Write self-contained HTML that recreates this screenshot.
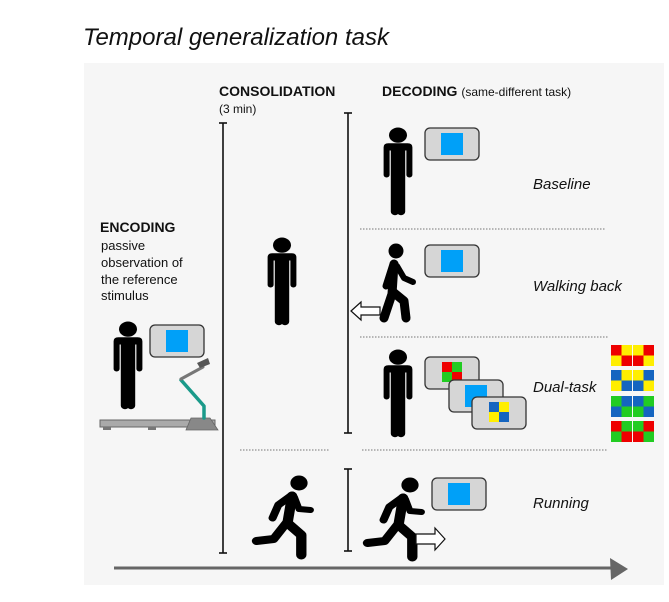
<!DOCTYPE html>
<html><head><style>
body{margin:0;background:#fff;width:669px;height:602px;overflow:hidden}
svg{display:block}
text{font-family:"Liberation Sans",Arial,sans-serif;fill:#111}
</style></head><body>
<svg width="669" height="602" viewBox="0 0 669 602" xmlns="http://www.w3.org/2000/svg">
<defs>
<g id="stand">
<circle cx="15" cy="7" r="7.5"/>
<path d="M3 19 Q3 15 7 15 H23 Q27 15 27 19 V46 a2.5 2.5 0 0 1 -5 0 V22 H21 V82 a3.5 3.5 0 0 1 -7 0 V50 H16 V82 a3.5 3.5 0 0 1 -7 0 V22 H8 V46 a2.5 2.5 0 0 1 -5 0 Z"/>
</g>
<g id="screen">
<rect x="0" y="0" width="54" height="32" rx="5" fill="#d6d6d6" stroke="#333" stroke-width="1.3"/>
<rect x="16" y="5" width="22" height="22" fill="#00a0f8"/>
</g>
<g id="run" stroke="#000" stroke-linecap="round" stroke-linejoin="round" fill="none">
<circle cx="40" cy="8" r="7.5" fill="#000" stroke="none"/>
<path d="M34 20 L22 30 L17 43" stroke-width="7"/>
<path d="M36 22 L40 34 L50 35" stroke-width="6"/>
<path d="M34 21 L30 48 L42 60 L42 80" stroke-width="9"/>
<path d="M29 48 L18 64 L3 66" stroke-width="8"/>
</g>
<g id="walk" stroke="#000" stroke-linecap="round" stroke-linejoin="round" fill="none">
<circle cx="18" cy="7" r="7.5" fill="#000" stroke="none"/>
<path d="M15 20 L8 42" stroke-width="7"/>
<path d="M19 22 L26 34 L35 38" stroke-width="6"/>
<path d="M16 20 L14 50 L6 74" stroke-width="9"/>
<path d="M15 48 L26 57 L28 74" stroke-width="9"/>
</g>
</defs>
<text x="83" y="45" font-size="24" font-style="italic">Temporal generalization task</text>
<rect x="84" y="63" width="580" height="522" fill="#f6f6f6"/>

<text x="219" y="96" font-size="14" font-weight="bold">CONSOLIDATION</text>
<text x="219" y="113" font-size="12">(3 min)</text>
<text x="382" y="96" font-size="14" font-weight="bold">DECODING <tspan font-weight="normal" font-size="12">(same-different task)</tspan></text>

<text x="100" y="232" font-size="14" font-weight="bold">ENCODING</text>
<text x="101" y="250" font-size="13">passive</text>
<text x="101" y="267" font-size="13">observation of</text>
<text x="101" y="284" font-size="13">the reference</text>
<text x="101" y="300" font-size="13">stimulus</text>

<g stroke="#111" stroke-width="1.6">
<line x1="223" y1="123" x2="223" y2="553"/><line x1="219" y1="123" x2="227" y2="123"/><line x1="219" y1="553" x2="227" y2="553"/>
<line x1="348" y1="113" x2="348" y2="433"/><line x1="344" y1="113" x2="352" y2="113"/><line x1="344" y1="433" x2="352" y2="433"/>
<line x1="348" y1="469" x2="348" y2="551"/><line x1="344" y1="469" x2="352" y2="469"/><line x1="344" y1="551" x2="352" y2="551"/>
</g>
<g stroke="#777" stroke-width="1" stroke-dasharray="1.5,1.5">
<line x1="360" y1="229" x2="605" y2="229"/>
<line x1="360" y1="337" x2="609" y2="337"/>
<line x1="240" y1="450" x2="330" y2="450"/>
<line x1="362" y1="450" x2="607" y2="450"/>
</g>

<use href="#stand" transform="translate(110,322) scale(1.2,1.02)"/>
<use href="#stand" transform="translate(264,238) scale(1.2,1.02)"/>
<use href="#stand" transform="translate(380,128) scale(1.2,1.02)"/>
<use href="#stand" transform="translate(380,350) scale(1.2,1.02)"/>
<use href="#walk" x="378" y="244"/>
<use href="#run" transform="translate(253,475) scale(1.15,1)"/>
<use href="#run" transform="translate(364,477) scale(1.15,1)"/>

<use href="#screen" x="150" y="325"/>
<use href="#screen" x="425" y="128"/>
<use href="#screen" x="425" y="245"/>
<use href="#screen" x="432" y="478"/>

<rect x="425" y="357" width="54" height="32" rx="5" fill="#d6d6d6" stroke="#333" stroke-width="1.3"/>
<rect x="442" y="362" width="10" height="10" fill="#e00"/><rect x="452" y="362" width="10" height="10" fill="#2c2"/><rect x="442" y="372" width="10" height="10" fill="#2c2"/><rect x="452" y="372" width="10" height="10" fill="#e00"/>
<rect x="449" y="380" width="54" height="32" rx="5" fill="#d6d6d6" stroke="#333" stroke-width="1.3"/>
<rect x="465" y="385" width="22" height="22" fill="#00a0f8"/>
<rect x="472" y="397" width="54" height="32" rx="5" fill="#d6d6d6" stroke="#333" stroke-width="1.3"/>
<rect x="489" y="402" width="10" height="10" fill="#1565c0"/><rect x="499" y="402" width="10" height="10" fill="#fe0"/><rect x="489" y="412" width="10" height="10" fill="#fe0"/><rect x="499" y="412" width="10" height="10" fill="#1565c0"/>

<g>
<g transform="translate(611,345)"><rect width="21" height="21" fill="#fe0"/><rect width="10.5" height="10.5" fill="#e00"/><rect x="10.5" y="10.5" width="10.5" height="10.5" fill="#e00"/><g transform="translate(22,0)"><rect width="21" height="21" fill="#e00"/><rect width="10.5" height="10.5" fill="#fe0"/><rect x="10.5" y="10.5" width="10.5" height="10.5" fill="#fe0"/></g></g>
<g transform="translate(611,370)"><rect width="21" height="21" fill="#fe0"/><rect width="10.5" height="10.5" fill="#1565c0"/><rect x="10.5" y="10.5" width="10.5" height="10.5" fill="#1565c0"/><g transform="translate(22,0)"><rect width="21" height="21" fill="#1565c0"/><rect width="10.5" height="10.5" fill="#fe0"/><rect x="10.5" y="10.5" width="10.5" height="10.5" fill="#fe0"/></g></g>
<g transform="translate(611,396)"><rect width="21" height="21" fill="#1565c0"/><rect width="10.5" height="10.5" fill="#2c2"/><rect x="10.5" y="10.5" width="10.5" height="10.5" fill="#2c2"/><g transform="translate(22,0)"><rect width="21" height="21" fill="#2c2"/><rect width="10.5" height="10.5" fill="#1565c0"/><rect x="10.5" y="10.5" width="10.5" height="10.5" fill="#1565c0"/></g></g>
<g transform="translate(611,421)"><rect width="21" height="21" fill="#2c2"/><rect width="10.5" height="10.5" fill="#e00"/><rect x="10.5" y="10.5" width="10.5" height="10.5" fill="#e00"/><g transform="translate(22,0)"><rect width="21" height="21" fill="#e00"/><rect width="10.5" height="10.5" fill="#2c2"/><rect x="10.5" y="10.5" width="10.5" height="10.5" fill="#2c2"/></g></g>
</g>

<path d="M100 420 H215 V427 H100 Z" fill="#aaa" stroke="#666" stroke-width="1"/>
<rect x="103" y="427" width="8" height="3" fill="#777"/><rect x="148" y="427" width="8" height="3" fill="#777"/>
<path d="M191 418 H210 L218 430 H186 Z" fill="#888" stroke="#666" stroke-width="0.8"/>
<path d="M204 418 V406 L181 380" stroke="#1a9a8a" stroke-width="3.5" fill="none" stroke-linecap="round" stroke-linejoin="round"/>
<path d="M181 379 L203 367" stroke="#777" stroke-width="3" stroke-linecap="round"/>
<path d="M197 363 L208 358 L210 364 L200 368 Z" fill="#555"/>

<path d="M351 311 L361 302 V307 H380 V315 H361 V320 Z" fill="#fff" stroke="#111" stroke-width="1.2"/>
<path d="M445 539 L435 528 V534 H416 V544 H435 V550 Z" fill="#fff" stroke="#111" stroke-width="1.2"/>

<text x="533" y="189" font-size="15" font-style="italic">Baseline</text>
<text x="533" y="291" font-size="15" font-style="italic">Walking back</text>
<text x="533" y="392" font-size="15" font-style="italic">Dual-task</text>
<text x="533" y="508" font-size="15" font-style="italic">Running</text>

<line x1="114" y1="568" x2="615" y2="568" stroke="#666" stroke-width="3"/>
<path d="M610 558 L628 569 L611 580 Z" fill="#666"/>
</svg>
</body></html>
